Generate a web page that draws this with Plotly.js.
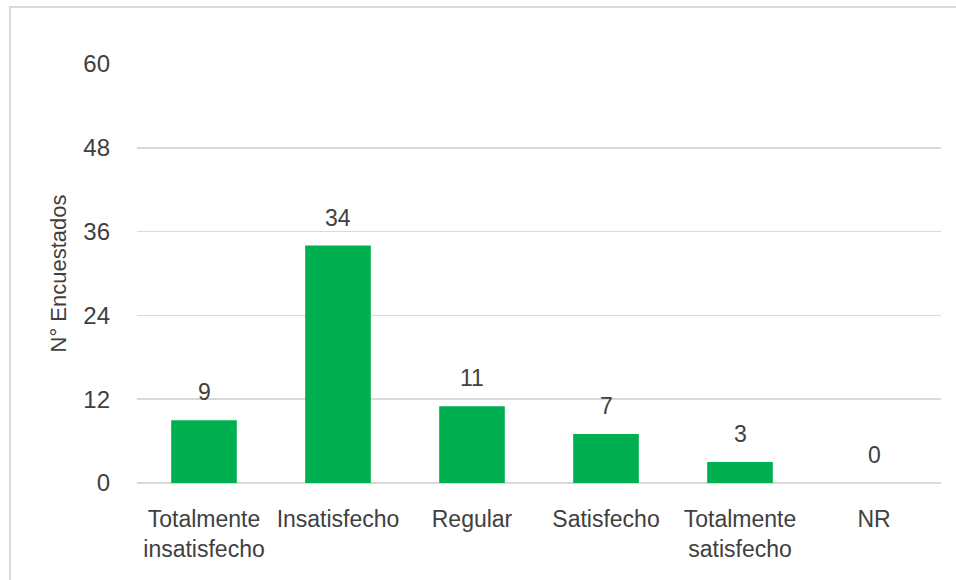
<!DOCTYPE html>
<html>
<head>
<meta charset="utf-8">
<script src="https://cdn.plot.ly/plotly-3.0.1.min.js"></script>
<style>html,body{margin:0;padding:0;background:#fff;}#chart{width:956px;height:580px;}</style>
</head>
<body>
<div id="chart"></div>
<script>
const categories = ["Totalmente<br>insatisfecho", "Insatisfecho", "Regular", "Satisfecho", "Totalmente<br>satisfecho", "NR"];
const values = [9, 34, 11, 7, 3, 0];
const yTicks = [0, 12, 24, 36, 48, 60];

const L = 137, R = 941, T = 64, B = 483;
const W = 956, H = 580;
const px = x => (x - L) / (R - L);
const py = y => (B - y) / (B - T);
const FONT = 'Liberation Sans, Arial, sans-serif';
const TXT = '#404040';

const trace = {
  type: 'bar',
  x: categories,
  y: values,
  marker: {color: '#00B050'},
  hoverinfo: 'none'
};

const annotations = categories.map((c, i) => ({
  x: c, y: values[i], xref: 'x', yref: 'y',
  text: String(values[i]),
  showarrow: false,
  yanchor: 'middle', yshift: 28,
  font: {family: FONT, size: 23, color: TXT}
}));

const layout = {
  width: W, height: H,
  margin: {l: L, r: W - R, t: T, b: H - B},
  paper_bgcolor: '#fff', plot_bgcolor: '#fff',
  bargap: 0.51,
  showlegend: false,
  font: {family: FONT, size: 24, color: TXT},
  xaxis: {
    type: 'category',
    showgrid: false, zeroline: false, showline: false,
    ticks: '', tickfont: {size: 23, color: TXT},
    ticklabelstandoff: 20
  },
  yaxis: {
    range: [0, 60],
    tickvals: yTicks,
    ticktext: yTicks.map(String),
    showgrid: true, gridcolor: '#D9D9D9', gridwidth: 1.5,
    zeroline: true, zerolinecolor: '#D9D9D9', zerolinewidth: 1.5,
    showline: false, ticks: '',
    tickfont: {size: 24, color: TXT},
    ticklabelstandoff: 26,
    title: {text: 'N° Encuestados', font: {size: 22, color: TXT}, standoff: 10}
  },
  annotations: annotations,
  shapes: [{
    type: 'rect', xref: 'paper', yref: 'paper',
    x0: px(10), x1: px(970), y0: py(595), y1: py(7),
    line: {color: '#D9D9D9', width: 2}, fillcolor: 'rgba(0,0,0,0)', layer: 'below'
  }]
};

Plotly.newPlot('chart', [trace], layout, {displayModeBar: false, staticPlot: true});
</script>
</body>
</html>
